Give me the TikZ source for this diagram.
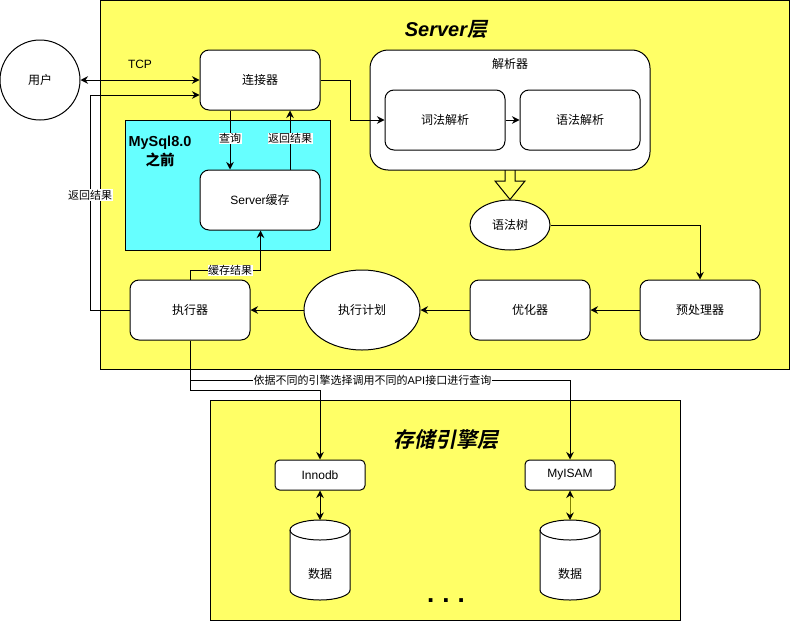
\documentclass[tikz,border=0pt]{standalone}
\usepackage{fontspec}
\setmainfont{Noto Sans CJK SC}
\newfontfamily\lat{Liberation Sans}
\newfontfamily\cjkb{Noto Sans CJK SC Bold}
\newfontfamily\cjkbi{Noto Sans CJK SC Bold}[FakeSlant=0.2]
\usetikzlibrary{arrows.meta,shapes.geometric}
\definecolor{yel}{HTML}{FFFF66}
\definecolor{cya}{HTML}{66FFFF}
\definecolor{oli}{HTML}{808000}
\begin{document}
\begin{tikzpicture}[x=1pt,y=-1pt,
  font=\fontsize{12}{14}\selectfont,
  box/.style={draw,line width=1pt,fill=white,rounded corners=9pt,minimum width=120pt,minimum height=60pt,inner sep=0pt},
  sbox/.style={draw,line width=1pt,fill=white,rounded corners=4.5pt,minimum width=90pt,minimum height=30pt,inner sep=0pt},
  arr/.style={line width=1pt,-{Stealth[length=7.5pt,width=7.5pt,inset=2.5pt]}},
  darr/.style={line width=1pt,{Stealth[length=7.5pt,width=7.5pt,inset=2.5pt,color=black]}-{Stealth[length=7.5pt,width=7.5pt,inset=2.5pt,color=black]}},
  lbl/.style={fill=white,inner sep=0.5pt,font=\fontsize{11}{13}\selectfont},
  cyl/.style={draw,line width=1pt,fill=white}]
\useasboundingbox (0,0) rectangle (791,621);
\fill[white] (0,0) rectangle (791,621);
% layers
\draw[fill=yel,line width=1pt] (100.5,0.5) rectangle (789.5,369.5);
\draw[fill=yel,line width=1pt] (210.5,400.5) rectangle (680.5,620.5);
\draw[fill=cya,line width=1pt] (125.5,120.5) rectangle (330.5,250.5);
\node (srvtitle) at (446,29) {{\lat\bfseries\itshape\fontsize{20}{24}\selectfont Server}{\cjkbi\fontsize{20}{24}\selectfont 层}};
\node (sttitle) at (446,440) {\cjkbi\fontsize{21}{24}\selectfont 存储引擎层};
\node[align=center,font=\lat\bfseries\fontsize{14.5}{19}\selectfont] (mysql) at (160,151) {MySql8.0\\{\cjkb 之前}};
% nodes
\node[circle,draw,line width=1pt,fill=white,minimum size=80pt,inner sep=0pt] (user) at (40,80) {用户};
\node[box] (conn) at (260,80) {连接器};
\node[box] (cache) at (260,200) {{\lat Server}缓存};
\node[draw,line width=1pt,fill=white,rounded corners=18pt,minimum width=280pt,minimum height=120pt] (parser) at (510,110) {};
\node (parserlbl) at (510,64) {解析器};
\node[box] (lex) at (445,120) {词法解析};
\node[box] (syn) at (580,120) {语法解析};
\node[ellipse,draw,line width=1pt,fill=white,minimum width=80pt,minimum height=50pt,inner sep=0pt] (tree) at (510,225) {语法树};
\node[box] (pre) at (700,310) {预处理器};
\node[box] (opt) at (530,310) {优化器};
\node[ellipse,draw,line width=1pt,fill=white,minimum width=116pt,minimum height=80pt,inner sep=0pt] (plan) at (362,310) {执行计划};
\node[box] (exec) at (190,310) {执行器};
\node[sbox] (inno) at (320,475) {{\lat Innodb}};
\node[sbox] (myisam) at (570,475) {{\lat MyISAM}};
\node (tcp) at (140,64) {\lat TCP};
% cylinders
\draw[cyl] (290,530) -- (290,590) arc[start angle=180,end angle=360,x radius=30pt,y radius=10pt] -- (350,530) arc[start angle=0,end angle=180,x radius=30pt,y radius=10pt] -- cycle;
\draw[line width=1pt] (290,530) arc[start angle=180,end angle=360,x radius=30pt,y radius=10pt];
\coordinate (dbatop) at (320,520);
\node (dba) at (320,574) {数据};
\draw[cyl] (540,530) -- (540,590) arc[start angle=180,end angle=360,x radius=30pt,y radius=10pt] -- (600,530) arc[start angle=0,end angle=180,x radius=30pt,y radius=10pt] -- cycle;
\draw[line width=1pt] (540,530) arc[start angle=180,end angle=360,x radius=30pt,y radius=10pt];
\coordinate (dbbtop) at (570,520);
\node (dbb) at (570,574) {数据};
\node[inner sep=0pt] (dots) at (446,601) {\lat\bfseries\fontsize{26}{30}\selectfont .\hspace{8pt}.\hspace{8pt}.};
% connectors
\draw[darr] (user.east) -- (conn.west);
\draw[arr] (exec.west) -- (90,310) -- node[lbl,pos=0.535]{返回结果} (90,95) -- ([yshift=-15pt]conn.west);
\draw[arr] ([xshift=-30pt]conn.south) -- node[lbl,pos=0.47]{查询} ([xshift=-30pt]cache.north);
\draw[arr] ([xshift=30pt]cache.north) -- node[lbl,pos=0.53]{返回结果} ([xshift=30pt]conn.south);
\draw[arr] (exec.north) -- (190,270.5) -- node[lbl,pos=0.57]{缓存结果} (260.5,270.5) -- ([xshift=0.5pt]cache.south);
\draw[arr] (conn.east) -- (350,80) |- (lex.west);
\draw[arr] (lex) -- (syn);
\draw[line width=1pt] (505,170) -- (505,181) -- (495,181) -- (tree.north) -- (525,181) -- (515,181) -- (515,170);
\draw[arr] (tree.east) -| (pre.north);
\draw[arr] (pre) -- (opt);
\draw[arr] (opt) -- (plan);
\draw[arr] (plan) -- (exec);
\draw[arr] (exec.south) -- (190,380) -- node[lbl,pos=0.48]{依据不同的引擎选择调用不同的{\lat API}接口进行查询} (570,380) -- (myisam.north);
\draw[arr] (exec.south) -- (190,390) -- (320,390) -- (inno.north);
\draw[darr] (inno.south) -- (dbatop);
\draw[darr,draw=oli] (myisam.south) -- (dbbtop);
\end{tikzpicture}
\end{document}
